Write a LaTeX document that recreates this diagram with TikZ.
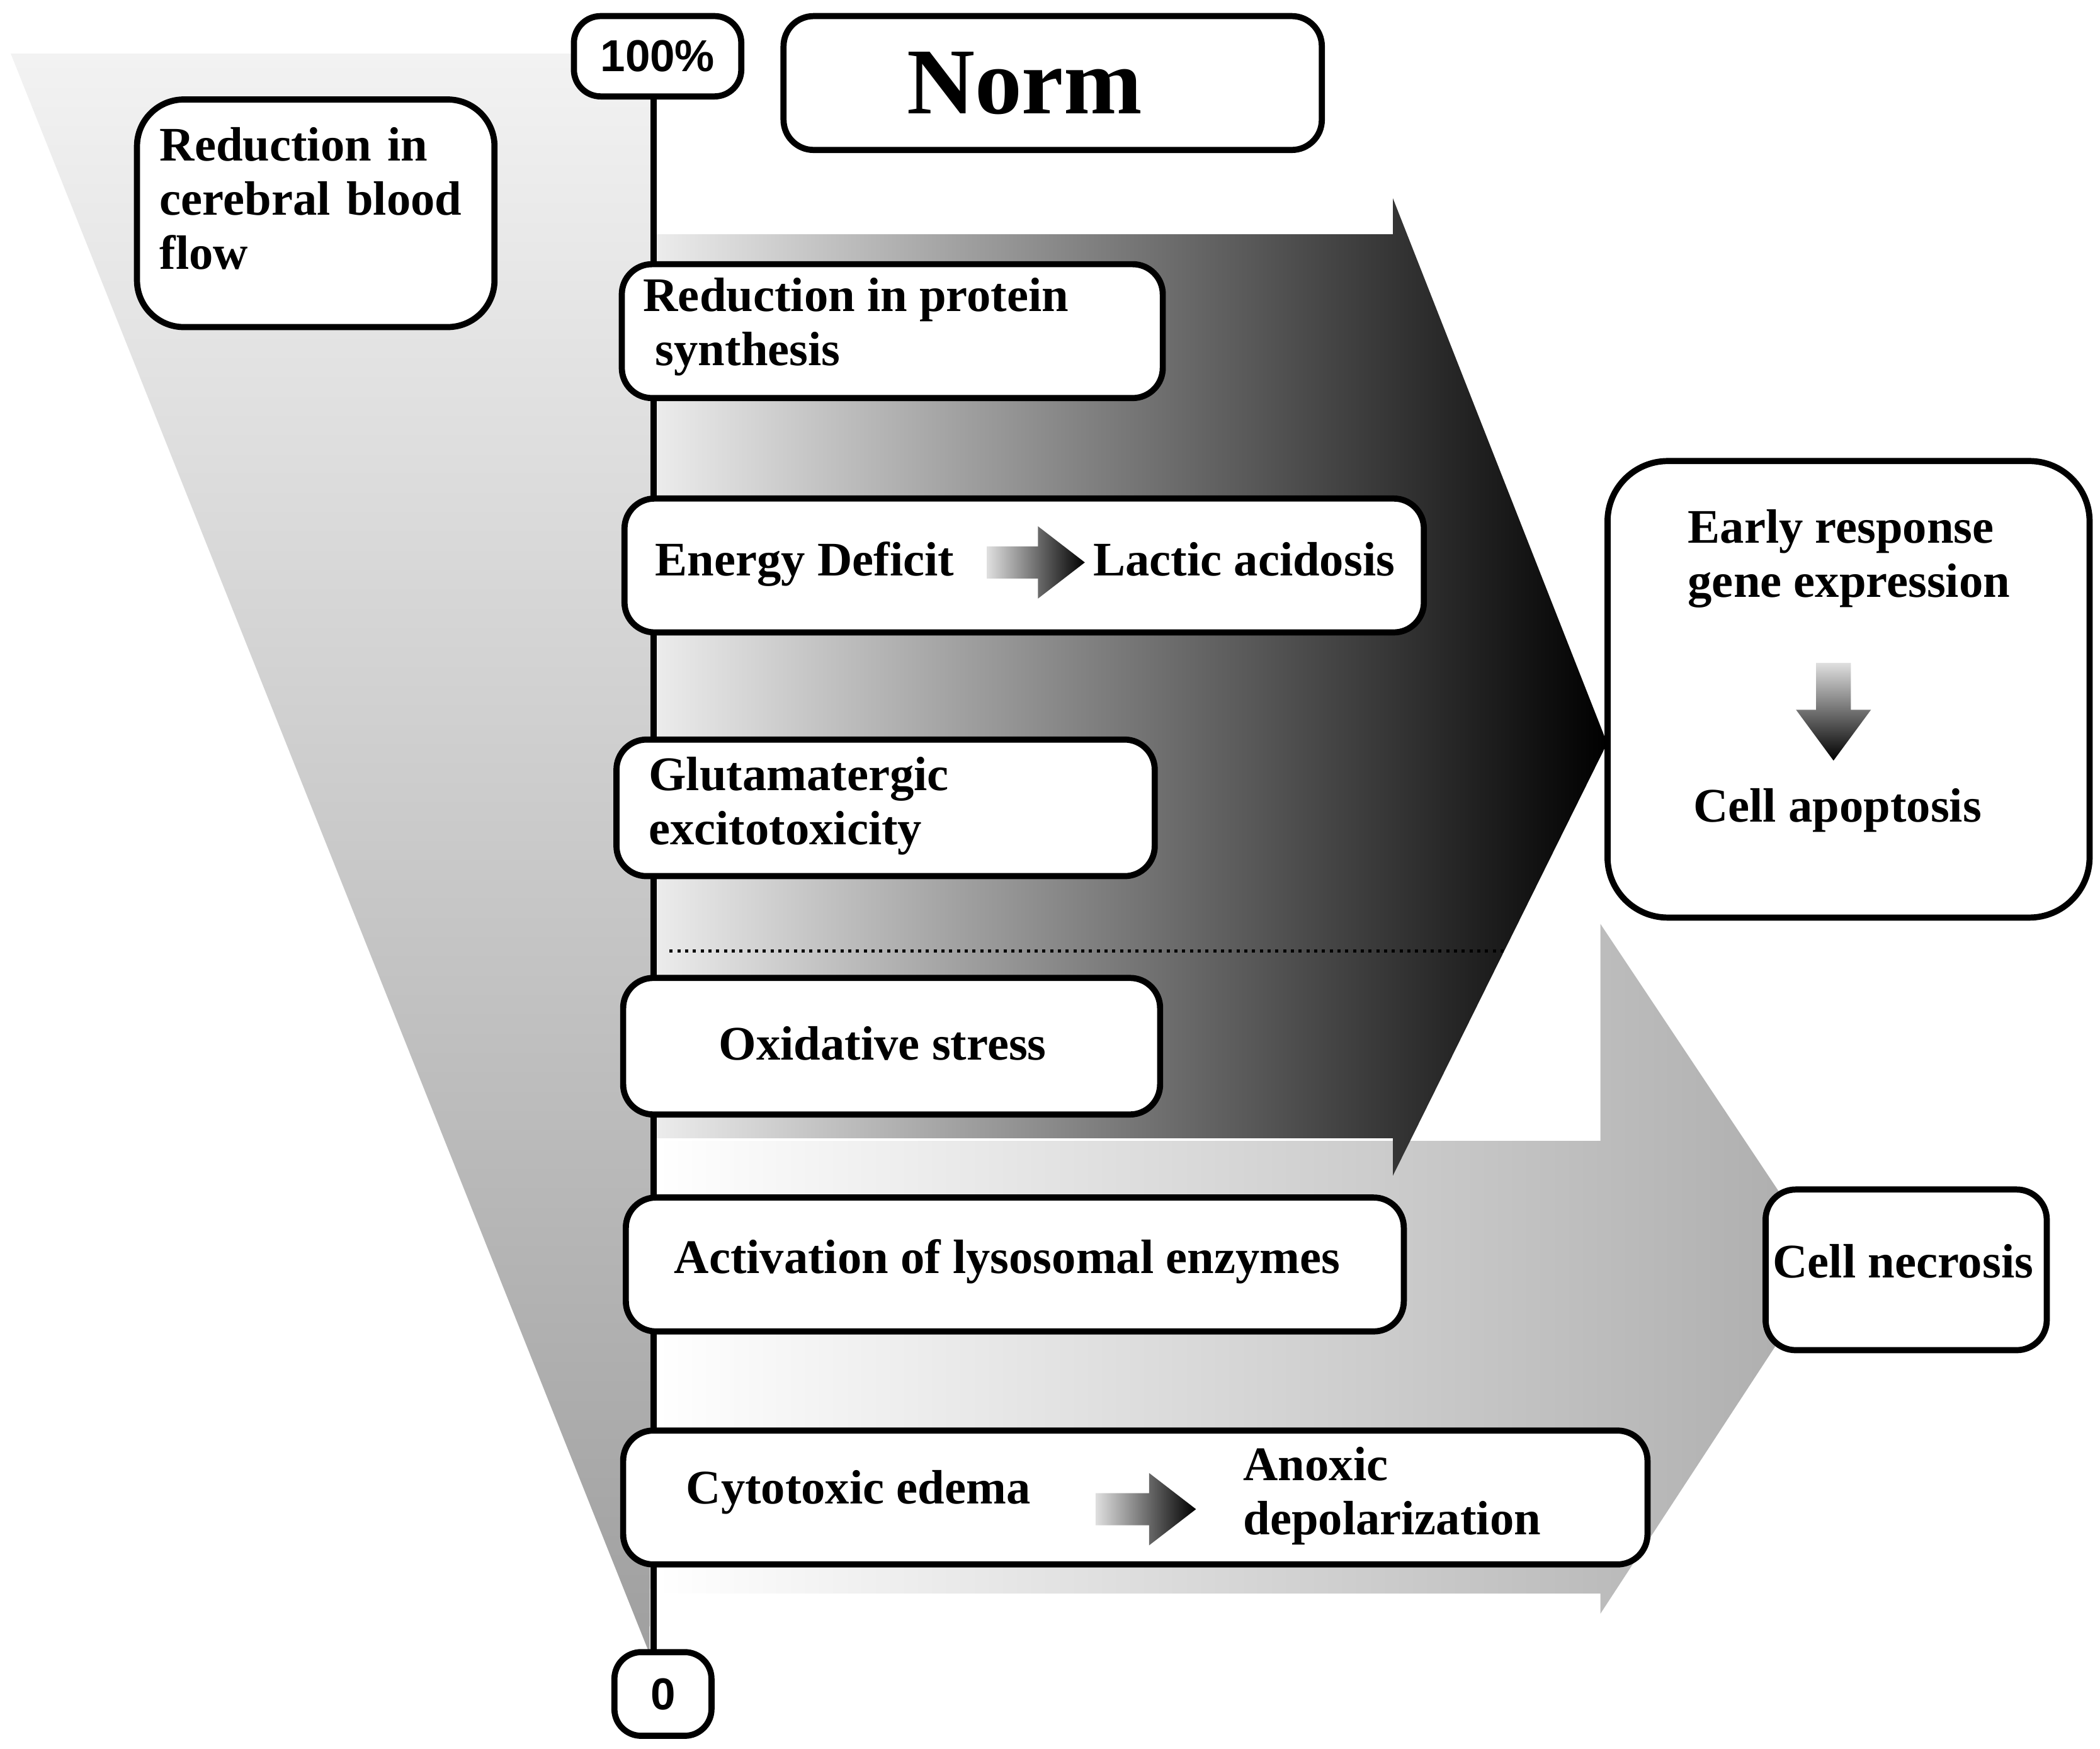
\documentclass[tikz,border=0pt]{standalone}
\usepackage{fontspec}
\setmainfont{Liberation Serif}
\newfontfamily\mysans{Liberation Sans}
\begin{document}
\begin{tikzpicture}[x=0.02cm,y=-0.02cm,
  box/.style={draw,line width=2.6pt,rounded corners=0.45cm,fill=white,font=\bfseries\fontsize{20.5}{23}\selectfont,align=left,inner sep=0pt},
  lbl/.style={font=\bfseries\fontsize{20.5}{23}\selectfont,align=left,inner sep=0pt}]
\useasboundingbox (0,0) rectangle (1568,1306);
% big triangle
\shade[top color=gray!10,bottom color=gray!75] (8,40) -- (490,40) -- (485,1235) -- cycle;
% lower arrow
\shade[left color=white,right color=gray!65] (490,852) -- (1195,852) -- (1195,690) -- (1365,945) -- (1195,1205) -- (1195,1190) -- (490,1190) -- cycle;
% upper arrow
\shade[left color=gray!15,right color=black] (490,175) -- (1040,175) -- (1040,148) -- (1200,555) -- (1040,878) -- (1040,850) -- (490,850) -- cycle;
% axis
\draw[line width=2.8pt] (488,60) -- (488,1240);
\draw[line width=1.3pt,dotted] (500,710) -- (1125,710);
\node[box,rounded corners=0.4cm,minimum width=2.5cm,minimum height=1.2cm,font=\bfseries\mysans\fontsize{19}{22}\selectfont] (top) at (491,42) {100\%};
\node[box,rounded corners=0.4cm,minimum width=1.45cm,minimum height=1.25cm,font=\bfseries\mysans\fontsize{19}{22}\selectfont] (zero) at (495,1265) {0};
\node[box,minimum width=8.04cm,minimum height=2cm] (norm) at (786,62) {};
\node[lbl,font=\bfseries\fontsize{40}{44}\selectfont] at (765,62) {Norm};
\node[box,minimum width=5.34cm,minimum height=3.4cm,anchor=north west,rounded corners=0.7cm] (cbf) at (100,72) {};
\node[lbl,anchor=north west,text width=5cm] at (119,95) {Reduction in\\cerebral blood\\flow};
\node[box,minimum width=8.08cm,minimum height=2cm,anchor=north west] (prot) at (462,195) {};
\node[lbl,anchor=north west] at (480,207) {Reduction in protein\\\ synthesis};
\node[box,minimum width=11.94cm,minimum height=2cm,anchor=north west] (en) at (464,370) {};
\node[lbl,anchor=base west] (ed) at (489,430) {Energy Deficit};
\node[lbl,anchor=base west] (la) at (816,430) {Lactic acidosis};
\node[box,minimum width=8.04cm,minimum height=2.04cm,anchor=north west] (glu) at (458,550) {};
\node[lbl,anchor=north west] at (484,565) {Glutamatergic\\excitotoxicity};
\node[box,minimum width=8.02cm,minimum height=2.04cm,anchor=north west] (ox) at (463,728) {};
\node[lbl] at (659,779) {Oxidative stress};
\node[box,minimum width=11.62cm,minimum height=2cm,anchor=north west] (ly) at (465,892) {};
\node[lbl] at (752,942) {Activation of lysosomal enzymes};
\node[box,minimum width=15.3cm,minimum height=2cm,anchor=north west] (cy) at (463,1066) {};
\node[lbl,anchor=base west] (ce) at (512,1123) {Cytotoxic edema};
\node[lbl,anchor=west] (ad) at (928,1117) {Anoxic\\depolarization};
\node[box,rounded corners=0.9cm,minimum width=7.2cm,minimum height=6.82cm,anchor=north west] (er) at (1198,342) {};
\node[lbl,anchor=north west] (ert) at (1260,380) {Early response\\gene expression};
\node[lbl] (ap) at (1372,605) {Cell apoptosis};
\node[box,minimum width=4.2cm,minimum height=2.4cm,anchor=north west] (nec) at (1316,886) {};
\node[lbl] at (1421,942) {Cell necrosis};
% small arrows
\shade[left color=gray!25,right color=black] (737,408) -- (775,408) -- (775,393) -- (810,420) -- (775,447) -- (775,432) -- (737,432) -- cycle;
\shade[left color=gray!25,right color=black] (818,1115) -- (858,1115) -- (858,1100) -- (893,1127) -- (858,1154) -- (858,1139) -- (818,1139) -- cycle;
\shade[top color=gray!25,bottom color=black] (1356,495) -- (1382,495) -- (1382,530) -- (1397,530) -- (1369,568) -- (1341,530) -- (1356,530) -- cycle;
\end{tikzpicture}
\end{document}
